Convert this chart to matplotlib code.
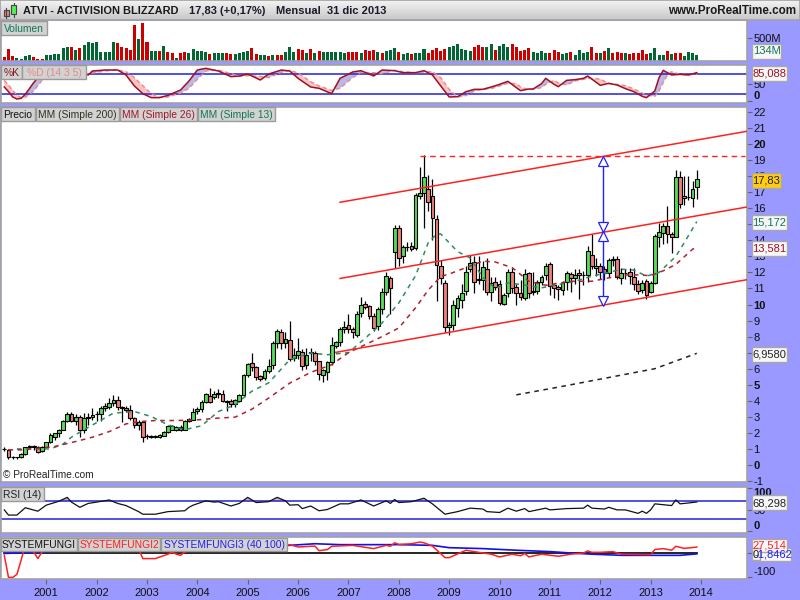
import matplotlib
matplotlib.use('Agg')
import matplotlib.pyplot as plt
import numpy as np
from matplotlib.patches import Rectangle

plt.rcParams['font.family'] = ['Liberation Sans', 'DejaVu Sans']

# monthly candles, first one is march 2000, last one dec 2013
opens = [1.0,.94,.48,.48,.48,.69,1.12,1.17,1.10,.90,1.15,1.42,1.77,1.98,2.17,2.75,3.15,2.73,2.98,2.15,
         2.9,3.02,3.15,3.17,3.54,3.6,3.85,4.04,3.6,3.54,3.42,2.92,2.48,2.67,1.8,1.78,1.77,1.75,1.83,2.04,
         2.2,2.19,2.35,2.19,2.85,2.83,3.36,3.48,3.92,4.32,4.23,4.4,4.44,4.0,3.98,3.8,3.98,4.33,5.6,6.35,
         6.1,5.52,5.4,5.83,6.2,7.6,8.27,7.6,7.77,6.65,6.85,7.02,6.23,6.95,6.98,6.48,5.6,5.8,6.42,7.42,
         7.67,8.48,8.73,8.48,8.1,9.46,10.04,9.92,9.27,8.65,9.7,10.8,11.65,13.3,14.8,13.0,13.58,13.67,13.55,16.77,
         16.98,17.23,16.79,15.3,12.42,11.35,8.6,8.73,9.8,10.27,10.83,12.2,12.67,11.57,11.56,12.23,10.79,11.4,11.25,10.02,
         10.7,12.04,11.1,10.73,10.42,11.98,10.75,10.83,11.4,11.83,12.54,11.19,11.1,10.9,11.4,11.92,11.67,11.98,11.85,11.81,
         13.1,12.3,12.4,12.2,11.95,12.77,12.81,11.65,11.98,12.04,11.73,11.31,10.9,11.48,10.79,11.35,14.23,14.48,14.9,14.42,
         14.23,17.92,16.77,16.7,16.65,17.3]
highs = [1.15,.98,.56,.52,.75,1.15,1.23,1.25,1.2,1.2,1.45,1.98,2.02,2.25,2.8,3.33,3.27,3.2,3.1,3.25,
         3.23,3.55,3.35,3.7,3.85,4.17,4.38,4.3,3.65,3.65,3.75,3.0,2.8,2.7,1.9,1.85,1.85,1.92,2.1,2.5,
         2.5,2.42,2.5,2.82,2.9,3.55,3.6,4.06,4.5,4.79,4.6,4.75,4.65,4.05,4.1,4.1,4.4,5.65,6.35,6.98,
         6.15,5.6,6.0,6.6,7.7,8.45,8.5,8.3,9.0,7.3,7.9,7.2,7.3,7.3,7.1,6.5,6.0,6.5,7.98,7.75,
         8.6,8.95,9.4,8.6,9.6,10.45,10.2,10.0,9.5,9.85,11.0,12.0,11.8,14.95,14.95,13.7,13.9,13.9,16.95,18.6,
         19.3,18.1,17.8,15.6,12.8,11.55,8.9,10.3,10.6,11.25,12.4,13.1,13.0,13.0,12.7,12.9,11.7,11.7,11.5,10.7,
         12.2,12.3,11.3,11.55,12.2,12.0,12.0,11.5,11.85,12.6,12.65,11.3,11.2,11.45,12.1,12.0,12.2,12.2,12.1,13.65,
         14.4,12.9,12.6,12.4,12.9,13.0,13.0,12.3,12.2,12.3,12.3,11.5,11.5,11.6,11.45,14.4,15.1,15.1,16.15,14.5,
         18.4,18.3,18.0,18.0,17.7,18.4]
lows = [.9,.40,.40,.35,.45,.65,1.05,.95,.75,.8,1.1,1.35,1.55,1.75,2.15,2.65,2.65,2.5,1.77,1.98,
        2.5,2.8,2.77,2.77,3.35,3.5,3.7,3.4,2.7,3.3,2.8,2.3,2.2,1.45,1.6,1.65,1.7,1.65,1.8,2.0,
        2.15,2.12,2.1,2.15,2.65,2.8,3.2,3.3,3.85,3.85,4.1,4.2,3.9,3.35,3.6,3.6,3.9,4.3,5.5,5.85,
        5.3,5.25,5.3,5.75,6.0,7.3,7.2,7.3,6.5,6.5,6.6,5.9,6.0,6.5,6.2,5.3,5.15,5.3,6.2,7.3,
        7.4,8.2,8.2,7.9,8.0,9.2,9.7,9.1,8.35,8.4,9.4,10.6,9.4,12.3,12.4,12.6,13.35,13.35,13.4,16.55,
        14.8,15.83,14.05,10.2,11.3,8.27,8.1,8.4,9.2,9.8,10.6,12.0,10.7,11.3,10.9,10.6,10.2,10.9,10.0,9.95,
        10.5,10.7,9.95,10.3,10.3,10.4,10.6,10.65,11.2,11.5,10.6,10.4,10.3,10.6,10.9,10.8,11.3,10.35,11.2,11.4,
        12.2,11.8,11.6,11.5,11.7,12.4,11.6,11.25,11.6,11.3,10.9,10.65,10.7,10.35,10.7,11.3,13.6,13.8,13.85,13.2,
        14.2,16.0,16.2,16.5,16.05,16.6]
closes = [1.0,.48,.50,.50,.69,1.10,1.17,1.15,.79,1.15,1.42,1.85,1.98,2.17,2.75,3.15,2.73,2.98,2.15,2.9,
          3.02,3.12,3.17,3.54,3.67,3.85,4.06,3.6,3.58,3.4,2.9,2.48,2.69,1.77,1.82,1.77,1.8,1.87,2.04,2.42,
          2.4,2.35,2.19,2.77,2.73,3.33,3.48,3.92,4.42,3.92,4.4,4.48,3.96,3.9,3.8,4.04,4.33,5.6,6.29,6.1,
          5.46,5.35,5.85,6.15,7.6,8.33,7.6,7.85,6.6,6.85,7.1,6.17,6.87,7.02,6.48,5.67,5.92,6.4,7.48,7.67,
          8.48,8.6,8.48,8.27,9.42,9.98,9.85,9.3,8.52,9.73,10.8,11.8,11.04,14.8,12.92,13.6,13.6,13.48,16.83,16.98,
          17.98,16.42,15.42,12.44,11.67,8.6,8.73,9.98,10.42,10.73,12.04,12.6,11.42,11.56,12.35,10.79,11.35,11.08,10.1,10.6,
          12.04,11.04,10.73,10.48,11.88,10.69,10.85,11.4,11.73,12.42,11.15,11.04,10.94,11.35,11.96,11.67,11.81,11.81,11.87,13.33,
          12.4,12.4,12.0,11.95,12.77,12.85,11.73,11.94,11.97,11.77,11.25,10.83,11.35,10.58,11.35,14.27,14.52,14.9,14.38,14.23,
          17.98,16.29,16.67,16.73,17.19,17.83]

# volume in millions, r = red bar, g = green bar
volume = [95,264,110,59,44,110,132,81,44,44,132,132,147,147,293,308,308,242,293,359,
          418,388,418,205,205,205,418,396,315,279,249,792,484,836,425,220,220,227,330,191,
          169,73,183,205,169,257,227,213,191,154,176,176,169,169,154,154,183,205,220,293,
          154,132,132,110,132,125,132,205,308,205,264,242,169,264,169,220,191,191,191,191,
          191,183,198,198,191,183,242,227,242,205,169,227,242,293,205,161,183,154,183,169,
          257,183,242,279,227,257,315,337,381,264,242,227,315,359,308,315,381,242,337,381,
          315,381,315,227,242,293,198,169,220,183,183,242,205,154,169,205,132,242,169,205,
          315,183,183,220,293,183,198,183,169,161,169,183,242,154,169,293,132,132,227,154,
          183,169,110,198,183,134]
volume_colors = ('rrrggggrrr' 'ggggggrgrg' 'gggggggrrr' 'rrgrrggrgr' 'rgrrgggggr' 'gggrrggggr'
                 'rggrgrrggg' 'rrgrgrgggg' 'ggrrrgrrrg' 'rgggrggrgg' 'grrrrrgggg' 'ggrrrggrgg'
                 'grrrrrgggg' 'rrrggrgggg' 'rrgrgrrrgr' 'rrrrggggrg' 'rrgggg')

ma13_x = [3,11,14,16,18,22,26,31,35,39,43,47,51,55,59,63,68,73,77,82,86,90,94,98,101,103,104,108,111,114,117,120,123,128,132,136,140,144,147,150,153,156,160,162,165]
ma13 = [1.0,1.0,1.3,1.73,2.04,2.64,3.23,3.33,3.02,2.5,2.2,2.44,3.33,3.75,4.6,5.12,6.56,6.98,6.87,7.0,7.9,8.85,10.1,11.8,13.85,14.4,14.4,13.3,12.9,11.7,11.0,11.35,11.25,11.04,11.25,11.45,11.77,12.0,12.2,12.15,11.77,12.0,13.0,13.85,15.17]
ma26_x = [1,4,12,17,21,25,29,32,36,41,46,51,55,59,63,68,73,78,82,86,90,94,98,101,104,106,110,114,117,121,125,129,135,140,144,149,154,157,160,164,165]
ma26 = [.94,.94,1.15,1.46,1.73,2.08,2.56,2.7,2.77,2.77,2.81,2.92,2.98,3.48,4.17,5.1,5.77,6.25,7.0,7.5,8.0,8.54,9.8,10.9,11.75,11.9,12.3,12.7,12.65,12.3,11.45,11.2,11.45,11.45,11.66,11.87,11.8,12.1,12.5,13.45,13.58]
ma200_x = [122,133,143,155,165]
ma200 = [4.37,4.9,5.4,6.0,6.958]

# red channel lines and the resistance level
channel_x = [80,177.2]
channel_low_x = [79,177.2]
channel_top = [16.375,20.81]
channel_mid = [11.625,16.09]
channel_low = [7.02,11.56]
resist_x = [99,176.5]
resist = [19.28,19.28]
arrow_x = 142.6

stoch_x = [0,1,2,3,4,5,7,9,12,18,20,21,24,27,29,31,33,35,37,39,42,44,46,48,51,54,56,58,61,63,66,68,70,73,75,78,80,83,85,88,90,93,95,98,100,102,104,106,108,110,112,114,116,118,120,122,123,125,126,128,129,131,132,134,136,138,139,142,144,146,148,150,152,153,155,156,157,158,159,161,163,165]
stoch_k = [42,28,12,6,8,20,55,85,88,85,78,90,93,93,78,45,22,10,10,17,33,60,93,98,90,73,75,81,63,81,93,90,68,42,38,22,68,87,91,75,93,91,85,85,91,78,45,12,13,28,35,35,42,50,59,40,31,36,36,52,68,50,43,62,64,68,75,47,53,48,37,28,14,10,30,70,92,85,78,80,78,85.09]
stoch_d = [62,48,32,18,10,11,30,62,85,86,82,84,90,93,88,70,46,22,11,12,24,38,65,90,93,82,74,76,74,70,86,92,84,58,45,32,38,70,86,85,82,92,88,85,87,88,70,35,12,16,30,35,37,45,53,52,42,34,35,40,50,62,54,48,60,65,68,66,52,50,46,36,24,17,14,30,55,78,88,80,79,80]

rsi_x = [0,1,3,5,8,10,13,15,16,18,20,22,25,27,29,32,33,36,39,43,44,45,48,50,51,54,56,58,60,63,65,67,68,70,71,73,75,77,80,82,85,88,91,92,93,94,97,100,102,105,108,111,114,115,118,120,122,124,125,129,130,134,138,139,140,143,144,146,148,151,152,153,154,155,159,160,161,163,165]
rsi = [50,38,38,55,47,61,70,79,68,56,65,68,73,65,60,46,40,40,46,48,56,61,71,68,69,59,65,79,67,69,79,71,61,62,53,59,48,51,64,64,73,59,71,65,74,67,69,77,64,40,46,54,52,46,44,54,47,53,46,54,50,53,54,61,54,52,56,50,50,42,47,42,50,64,60,73,64,66,68.3]

fungi2_x = [0,1,2,3,4,5,6,7,8,9,12,20,28,32,33,36,39,40,41,42,43,50,60,68,70,74,75,77,78,83,88,91,92,93,94,97,99,100,102,105,106,110,113,116,118,121,123,124,125,128,132,135,138,139,140,142,145,147,154,155,157,159,160,162,165]
fungi2 = [-8,-103,-103,-90,-29,35,50,7,-22,7,40,45,35,21,-22,-22,-3,5,-3,-8,7,30,25,38,28,32,12,17,31,35,21,35,31,46,39,42,49,46,32,-18,-18,14,5,-3,-15,-3,-10,0,-15,-3,-12,-3,2,11,5,5,8,-3,-5,17,21,14,31,22,27.5]
fungi3_x = [0,20,40,68,74,80,94,102,106,114,122,130,135,140,147,161,165]
fungi3 = [0,15,30,35,42,38,38,35,25,21,14,8,2,-3,-8,-8,-1.8]
fungi1_x = [0,165]
fungi1 = [0,0]

years = list(range(2001,2015))
year_x = [10 + 12 * k for k in range(14)]
price_ticks = list(range(-1,23))
bold_prices = [0,5,10,15,20]

lilac = '#9999ff'
border = '#a2a2a2'
grn = '#56dc56'
rd = '#ef8078'
xlim = ((1 - 4.3) / 4.197,(747 - 4.3) / 4.197)

fig = plt.figure(figsize = (8,6),dpi = 100,facecolor = lilac)

def px_axes(left,top,right,bottom,z = 1):
    ax = fig.add_axes([left / 800,1 - bottom / 600,(right - left) / 800,(bottom - top) / 600],zorder = z)
    for s in ax.spines.values():
        s.set_color(border)
        s.set_linewidth(1.2)
    return ax

def style_panel(ax,ylim,ticks,labels):
    ax.set_xlim(xlim)
    ax.set_ylim(ylim)
    ax.set_xticks([])
    ax.yaxis.tick_right()
    ax.set_yticks(ticks)
    ax.set_yticklabels(labels,fontsize = 8,color = '#101010')
    ax.tick_params(axis = 'y',length = 3.5,width = 0.8,color = '#666666',pad = 1)

# top bar
bar = px_axes(0,0,800,20)
bar.imshow(np.linspace(0.95,0.78,20).reshape(-1,1),cmap = 'gray',vmin = 0,vmax = 1,aspect = 'auto',extent = (0,800,20,0))
bar.set_xticks([])
bar.set_yticks([])
bar.add_patch(Rectangle((4,10),4.5,6,fc = rd,ec = '#444444',lw = 0.8))
bar.plot([6.2,6.2],[8,18],color = '#444444',lw = 0.8,zorder = 1)
bar.add_patch(Rectangle((11,5),5,9,fc = '#55ee55',ec = '#444444',lw = 0.8,zorder = 3))
bar.plot([13.5,13.5],[2.5,17],color = '#444444',lw = 0.8,zorder = 2)
bar.text(23,11,'ATVI - ACTIVISION BLIZZARD',fontsize = 7.9,weight = 'bold',color = '#1a1a1a',va = 'center')
bar.text(189,11,'17,83 (+0,17%)',fontsize = 8,weight = 'bold',color = '#1a1a2a',va = 'center')
bar.text(276,11,'Mensual  31 dic 2013',fontsize = 8,weight = 'bold',color = '#1a1a2a',va = 'center')
bar.text(796,11,'www.ProRealTime.com',fontsize = 8.4,weight = 'bold',color = '#1a1a1a',va = 'center',ha = 'right')

x = np.arange(len(closes))

# volume
ax_vol = px_axes(1,21,747,61)
style_panel(ax_vol,(0,880),[500],['500M'])
ax_vol.spines['top'].set_visible(False)
ax_vol.bar(x,volume,width = 0.72,color = ['#cc0000' if c == 'r' else '#006633' for c in volume_colors])

# stochastic
ax_st = px_axes(1,65,747,103)
style_panel(ax_st,(-6,108),[0,50],['0','50'])
ax_st.get_yticklabels()[0].set_fontweight('bold')
ax_st.get_yticklabels()[0].set_va('bottom')
k = np.array(stoch_k,dtype = float)
d = np.array(stoch_d,dtype = float)
ax_st.fill_between(stoch_x,k,d,where = k <= d,interpolate = True,color = '#f5c4c4',lw = 0)
ax_st.fill_between(stoch_x,k,d,where = k >= d,interpolate = True,color = '#b9b9e6',lw = 0)
ax_st.axhline(80,color = '#2222dd',lw = 1.1)
ax_st.axhline(20,color = '#2222dd',lw = 1.1)
ax_st.plot(stoch_x,d,color = '#ee8888',lw = 1,ls = (0,(3,2)))
ax_st.plot(stoch_x,k,color = '#a01020',lw = 1.1)

# price
ax_p = px_axes(1,107,747,482)
style_panel(ax_p,(-1.0625,22.3125),price_ticks,[str(v) for v in price_ticks])
for lab,v in zip(ax_p.get_yticklabels(),price_ticks):
    if v in bold_prices:
        lab.set_fontweight('bold')
ax_p.plot(ma13_x,ma13,color = '#2e8b63',lw = 1.1,ls = (0,(3,3)),zorder = 4)
ax_p.plot(ma26_x,ma26,color = '#b02030',lw = 1.1,ls = (0,(3,3)),zorder = 4)
ax_p.plot(ma200_x,ma200,color = '#222222',lw = 1.1,ls = (0,(3,3)),zorder = 4)
o = np.array(opens)
c = np.array(closes)
ax_p.vlines(x,lows,highs,color = 'black',lw = 0.9,zorder = 2)
ax_p.bar(x,np.abs(c - o),bottom = np.minimum(o,c),width = 0.9,color = [grn if up else rd for up in c >= o],
         edgecolor = 'black',linewidth = 0.8,zorder = 3)
ax_p.plot(channel_x,channel_top,color = '#ff2020',lw = 1.1,zorder = 5)
ax_p.plot(channel_x,channel_mid,color = '#ff2020',lw = 1.1,zorder = 5)
ax_p.plot(channel_low_x,channel_low,color = '#ff2020',lw = 1.1,zorder = 5)
ax_p.plot(resist_x,resist,color = '#ff2020',lw = 1,ls = (0,(4,3)),zorder = 5)
# the two blue arrows
ax_p.plot([arrow_x,arrow_x],[18.6,15.1],color = '#2020ff',lw = 1,zorder = 6)
ax_p.plot([arrow_x,arrow_x],[13.95,10.5],color = '#2020ff',lw = 1,zorder = 6)
ax_p.plot([arrow_x],[18.94],marker = '^',ms = 7.5,mfc = 'white',mec = '#2020ff',mew = 0.9,zorder = 7)
ax_p.plot([arrow_x],[14.84],marker = 'v',ms = 7.5,mfc = 'white',mec = '#2020ff',mew = 0.9,zorder = 7)
ax_p.plot([arrow_x],[14.27],marker = '^',ms = 7.5,mfc = 'white',mec = '#2020ff',mew = 0.9,zorder = 7)
ax_p.plot([arrow_x],[10.25],marker = 'v',ms = 7.5,mfc = 'white',mec = '#2020ff',mew = 0.9,zorder = 7)
ax_p.text(0.003,0.012,'\u00a9 ProRealTime.com',transform = ax_p.transAxes,fontsize = 7.3,color = '#222222')

# rsi
ax_r = px_axes(1,487,747,533)
style_panel(ax_r,(-3.5,103),[0,50,100],['0','50','100'])
labs = ax_r.get_yticklabels()
labs[0].set_fontweight('bold')
labs[0].set_va('bottom')
labs[2].set_fontweight('bold')
labs[2].set_va('top')
r = np.array(rsi,dtype = float)
ax_r.fill_between(rsi_x,r,70,where = r >= 70,interpolate = True,color = '#d6b4b4',lw = 0)
ax_r.axhline(70,color = '#2222dd',lw = 1.1)
ax_r.axhline(30,color = '#2222dd',lw = 1.1)
ax_r.plot(rsi_x,rsi,color = '#111111',lw = 0.9)

# systemfungi
ax_s = px_axes(1,537,747,579)
style_panel(ax_s,(-110,71),[-100,0],['-100',''])
ax_s.get_yticklabels()[0].set_va('bottom')
ax_s.set_xticks(year_x)
ax_s.set_xticklabels(years,fontsize = 8,color = '#101010')
ax_s.tick_params(axis = 'x',length = 3.5,width = 0.8,color = '#666666',pad = 3)
ax_s.plot(fungi1_x,fungi1,color = 'black',lw = 1.2)
ax_s.plot(fungi3_x,fungi3,color = '#1010ee',lw = 1.2)
ax_s.plot(fungi2_x,fungi2,color = '#ff2020',lw = 1.1)

# buttons and value boxes go on a transparent layer above the panels
top = fig.add_axes([0,0,1,1],zorder = 10)
top.set_xlim(0,800)
top.set_ylim(600,0)
top.axis('off')

def button(x0,x1,y0,y1,txt,col):
    top.add_patch(Rectangle((x0,y0),x1 - x0,y1 - y0,fc = '#d2d2d2',ec = '#9a9a9a',lw = 1))
    top.text((x0 + x1) / 2,(y0 + y1) / 2 + 0.5,txt,fontsize = 7.4,color = col,ha = 'center',va = 'center')

def value_box(x0,x1,yc,txt,col,fc = '#f7f7f7',h = 15):
    top.add_patch(Rectangle((x0,yc - h / 2),x1 - x0,h,fc = fc,ec = '#a8a8a8',lw = 1))
    top.text((x0 + x1) / 2,yc + 0.5,txt,fontsize = 8,color = col,ha = 'center',va = 'center')

button(1,47,21,35,'Volumen','#117755')
button(1,22,65,79,'%K','#8a1020')
button(22,86,65,79,'%D (14 3 5)','#e68a8a')
button(1,35,107,121,'Precio','#111111')
button(36,119,107,121,'MM (Simple 200)','#333322')
button(120,197,107,121,'MM (Simple 26)','#a01828')
button(198,275,107,121,'MM (Simple 13)','#117755')
button(1,44,487,501,'RSI (14)','#222222')
button(1,77,538,551,'SYSTEMFUNGI','#111111')
button(78,160,538,551,'SYSTEMFUNGI2','#ff2020')
button(161,287,538,551,'SYSTEMFUNGI3 (40 100)','#2020ee')

value_box(752,781,51,'134M','#117755')
value_box(752,787,73,'85,088','#a01020')
value_box(752,781,180,'17,83','#222222',fc = '#ffcc11')
value_box(752,787,222,'15,172','#117755')
value_box(752,787,248,'13,581','#a01020')
value_box(752,787,354,'6,9580','#222222')
value_box(752,787,502.5,'68,298','#222222')
value_box(756,791,554,'-1,8462','#2020ee',h = 13)
value_box(752,787,545.5,'27,514','#ff2020',h = 13)
value_box(752,760,554,'0','#111111',h = 12)

plt.savefig('out.png',dpi = 100,facecolor = lilac)
